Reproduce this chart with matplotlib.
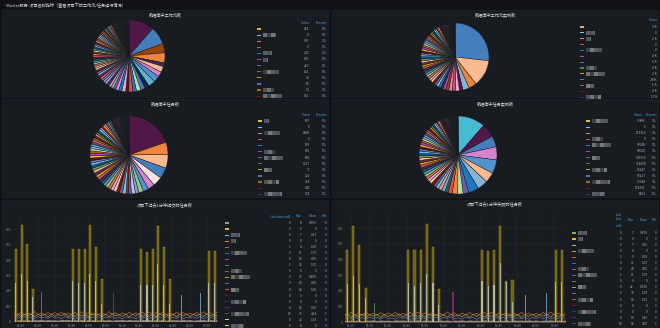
import numpy as np
import matplotlib
matplotlib.use("Agg")
import matplotlib.pyplot as plt
from matplotlib.patches import Rectangle

plt.rcParams["font.family"] = ["Noto Sans CJK SC", "DejaVu Sans"]

# ---------------------------------------------------------------- data
DASH_TITLE = "- Master服务-项目级别指标（查看项目下的工作流/任务运行情况）"
PANEL_TITLES = ["数据库中工作流数", "数据库中工作流实例数", "数据库中任务数",
                "数据库中任务实例数", "项目下过去1分钟提交的任务数",
                "项目下过去1分钟失败的任务数"]

# pie slices, in drawing order (clockwise from 12 o'clock)
wf_head = [800, 560, 290, 320, 120, 180, 160, 200, 220, 140, 140, 140, 120, 120,
           100, 120, 100, 100, 80, 80, 80, 80, 80, 70, 70, 70, 70]
wf_thin = [66, 64, 62, 62, 60, 60, 60, 58, 58, 58, 56, 56, 56, 54, 54, 54, 52, 52,
           52, 50, 50, 50, 48, 48, 46, 46, 44, 44, 42, 42, 40, 40, 38, 36, 34, 32]
wf_tail = [30, 28, 26, 24, 22, 20, 20, 18, 18, 16, 16, 15, 15, 14, 14, 13, 13, 12,
           12, 12, 11, 11, 11, 10, 10, 10, 10, 9, 9, 9, 9, 8, 8, 8, 8, 7, 7, 7, 7,
           6, 6, 6, 5, 5, 5, 4, 4, 3, 3, 2]

wfi_head = [9500, 4500, 1300, 1100, 600, 600, 600, 600, 500, 500, 400, 400]
wfi_thin = [420, 410, 400, 400, 390, 390, 380, 380, 370, 370, 360, 360, 360, 350,
            350, 350, 340, 340, 340, 330, 330, 330, 320, 320, 310, 310, 300, 300,
            290, 290, 280, 280, 270, 260, 250, 240]
wfi_tail = [200, 180, 170, 160, 150, 140, 130, 120, 110, 100, 95, 90, 85, 80, 75,
            70, 65, 60, 60, 55, 55, 50, 50, 45, 45, 40, 40, 35, 35, 30, 30, 25, 25,
            20, 20, 15, 15, 10, 10, 5]

task_head = [700, 180, 200, 160, 140, 100, 80, 70, 50, 60, 40, 40]
task_thin = [48, 47, 46, 45, 45, 44, 44, 43, 42, 42, 41, 40, 40, 39, 39, 38, 38, 37,
             37, 36, 36, 35, 35, 34, 34, 33, 33, 32, 32, 31, 31, 30, 30, 29, 28, 27,
             26, 25, 24, 23]
task_tail = [20, 18, 17, 16, 15, 14, 13, 12, 11, 10, 10, 9, 9, 8, 8, 7, 7, 7, 6, 6,
             6, 5, 5, 5, 5, 4, 4, 4, 4, 3, 3, 3, 3, 2, 2, 2, 2, 1, 1, 1]

ti_head = [40000, 20000, 16000, 19000, 20000, 15000, 15000, 15000, 8000, 8000, 8000,
           6000, 5000, 5000, 5000]
ti_thin = [4300, 4200, 4100, 4000, 4000, 3900, 3900, 3800, 3800, 3700, 3600, 3600,
           3500, 3500, 3500, 3400, 3400, 3300, 3300, 3200, 3200, 3100, 3100, 3000,
           3000, 2900, 2900, 2800, 2800, 2700, 2700, 2600, 2500, 2400, 2300, 2200]
ti_tail = [2000, 1800, 1700, 1600, 1500, 1400, 1300, 1200, 1100, 1000, 950, 900, 850,
           800, 750, 700, 650, 600, 600, 550, 550, 500, 500, 450, 450, 400, 400, 350,
           350, 300, 300, 250, 250, 200, 200, 150, 150, 100, 100, 50]

# pie legend tables (first visible rows)
wf_leg_val = ["923", "0", "350", "0", "265", "590", "423", "625", "34", "89", "73", "761"]
wf_leg_pct = ["1%", "0%", "2%", "0%", "2%", "1%", "1%", "1%", "0%", "0%", "0%", "1%"]
wfi_leg_val = ["3 K", "0", "2 K", "0", "0", "4 K", "6 K", "4 K", "2 K", "28 K",
               "1 K", "4 K", "17 K"]
task_leg_val = ["867", "0", "1808", "0", "859", "859", "801", "1127", "37", "129",
                "718", "441", "178"]
task_leg_pct = ["0%", "0%", "1%", "0%", "1%", "1%", "1%", "1%", "0%", "0%", "0%",
                "0%", "0%"]
ti_leg_val = ["33886", "0", "113316", "0", "75048", "38028", "343919", "314008",
              "13347", "53227", "37948", "114291", "8293"]
ti_leg_pct = ["3%", "0%", "3%", "0%", "3%", "3%", "1%", "1%", "0%", "0%", "3%", "1%",
              "0%"]

# time series: minutes after the first tick label
time_labels = ["15:10", "15:20", "15:30", "15:40", "15:50", "16:00", "16:10",
               "16:20", "16:30", "16:40", "16:50", "17:00"]
base_t = np.arange(-4, 118, 2)
base_orange = [55, 40, 62, 44, 58, 41, 66, 45, 57, 43, 60, 42, 59, 46, 63, 40, 56, 44,
               61, 43, 64, 46, 58, 41, 60, 45, 57, 42, 65, 47, 59, 40, 58, 44, 62, 46,
               56, 43, 61, 45, 63, 41, 58, 46, 60, 44, 57, 40, 62, 47, 59, 43, 56, 45,
               61, 44, 64, 46, 58, 42, 60]
base_green = [38, 50, 30, 47, 35, 52, 31, 46, 37, 49, 29, 51, 34, 45, 36, 53, 30, 48,
              33, 50, 35, 47, 31, 52, 36, 46, 32, 49, 30, 51, 37, 45, 33, 50, 29, 48,
              35, 53, 31, 47, 34, 49, 30, 52, 36, 46, 33, 50, 29, 48, 35, 51, 32, 47,
              37, 49, 30, 52, 34, 46, 36]
base_purple = [22, 30, 18, 33, 21, 28, 17, 31, 24, 29, 19, 34, 22, 27, 18, 32, 23, 30,
               16, 29, 21, 33, 19, 28, 24, 31, 17, 30, 22, 34, 20, 27, 18, 32, 23, 29,
               16, 33, 21, 30, 19, 28, 24, 31, 18, 34, 22, 27, 20, 32, 17, 29, 23, 30,
               21, 33, 19, 28, 22, 31, 20]
base_pale = [12, 9, 14, 10, 13, 8, 12, 11, 14, 9, 13, 10, 12, 8, 14, 11, 13, 9, 12, 10,
             14, 8, 13, 11, 12, 9, 14, 10, 13, 8, 12, 11, 14, 9, 13, 10, 12, 8, 14, 11,
             13, 9, 12, 10, 14, 8, 13, 11, 12, 9, 14, 10, 13, 8, 12, 11, 14, 9, 13, 10,
             12]

sub_t = [-3, 0.6, 3.6, 7.1, 30.8, 34.3, 37.9, 40.8, 44.4, 47.9, 71, 74.6, 78.1, 81,
         84.6, 88.2, 111.2, 114.8]
sub_peak = [470, 632, 508, 215, 470, 470, 470, 632, 483, 274, 470, 456, 470, 620,
            483, 274, 463, 463]
sub_light = [248, 313, 261, 157, 261, 248, 248, 313, 261, 117, 241, 235, 241, 378,
             241, 117, 254, 254]
sub_extra_t = [12.4, 55, 95.3, 106.5]
sub_extra_h = [195, 189, 176, 189]

fail_t = [-2, 1.2, 4.5, 7.8, 31, 34.3, 37.6, 41, 44.3, 47.5, 70.8, 74.1, 77.3, 80.8,
          84, 87.3, 110.7, 114]
fail_peak = [459, 612, 491, 217, 459, 459, 459, 625, 478, 210, 459, 455, 459, 612,
             262, 268, 459, 459]
fail_light = [242, 293, 242, 153, 249, 230, 249, 306, 249, 108, 262, 230, 236, 376,
              255, 127, 255, 255]
fail_extra_t = [12.5, 55.1, 94.3, 105.7]
fail_extra_h = [121, 191, 172, 185]

sub_last = ["0", "0", "0", "0", "1", "0", "0", "1", "0", "0", "0", "0", "0", "0", "4",
            "13", "0", "0"]
sub_max = ["8", "0", "7", "8", "4", "17", "14", "12", "0", "36", "10", "14", "0", "8",
           "15", "35", "20", "8"]
sub_mean = ["0.603", "0", "0.27", "0", "1.00", "1.07", "0.05", "1.05", "0", "0.800",
            "0.05", "1.00", "0", "0", "0.16", "4.14", "1.03", "0"]
sub_min = ["0", "0", "0", "0", "0", "0", "0", "0", "0", "0", "0", "0", "0", "0", "0",
           "1", "0", "0"]
fail_last = ["0", "0", "0", "0", "1", "0", "0", "1", "0", "0", "0", "0", "0", "0", "0",
             "10"]
fail_max = ["7", "0", "7", "0", "9", "21", "23", "11", "0", "32", "30", "14", "0", "0",
            "13", "18"]
fail_mean = ["0.878", "0", "0.16", "0", "1.08", "1.07", "0.05", "1.07", "0", "0.535",
             "1.07", "1.01", "0", "0", "0.16", "4.07"]
fail_min = ["0", "0", "0", "0", "0", "0", "0", "0", "0", "0", "0", "0", "0", "0", "0",
            "1"]

# ---------------------------------------------------------------- style
PAGE_BG = "#111217"
PANEL_BG = "#181b1f"
PANEL_EDGE = "#24272d"
TITLE_C = "#d8d9da"
HEAD_C = "#4e9fdd"
VAL_C = "#a9afb8"
PALETTE = ["#7EB26D", "#EAB839", "#6ED0E0", "#EF843C", "#E24D42", "#1F78C1",
           "#BA43A9", "#705DA0", "#508642", "#CCA300", "#447EBC", "#C15C17",
           "#890F02", "#0A437C", "#6D1F62", "#584477", "#B7DBAB", "#F4D598",
           "#70DBED", "#F9BA8F", "#F29191", "#82B5D8", "#E5A8E2", "#AEA2E0",
           "#629E51", "#E5AC0E", "#64B0C8", "#E0752D", "#BF1B00", "#0A50A1",
           "#962D82", "#614D93", "#9AC48A", "#F2C96D", "#65C5DB", "#F9934E",
           "#EA6460", "#5195CE", "#D683CE", "#806EB7", "#3F6833", "#967302",
           "#2F575E", "#99440A", "#58140C", "#052B51", "#511749", "#3F2B5B"]
DARK = ["#2F575E", "#3F2B5B", "#3F6833", "#58140C", "#4a4d52", "#052B51", "#511749",
        "#6b5a10", "#3a3d42", "#6D1F62", "#0A437C", "#584477", "#5c2a12", "#2c2f34"]

wf_colors = ["#511749", "#447EBC", "#99440A", "#EF843C", "#3F2B5B", "#F9BA8F",
             "#D683CE", "#5195CE", "#64B0C8", "#052B51", "#447EBC", "#B7DBAB",
             "#1F78C1", "#E24D42", "#58140C", "#E5A8E2", "#1F78C1", "#AEA2E0",
             "#BA43A9", "#82B5D8", "#F29191", "#0A437C", "#D683CE", "#64B0C8",
             "#806EB7", "#EA6460", "#6D1F62"]
wfi_colors = ["#447EBC", "#F9BA8F", "#EF843C", "#82B5D8", "#511749", "#E5A8E2",
              "#E24D42", "#D683CE", "#99440A", "#BA43A9", "#3F2B5B", "#1F78C1"]
task_colors = ["#511749", "#EF843C", "#F9BA8F", "#447EBC", "#FCE2DE", "#D683CE",
               "#5195CE", "#9AC48A", "#64B0C8", "#E5A8E2", "#1F78C1", "#BF1B00"]
ti_colors = ["#45BCD2", "#511749", "#447EBC", "#D683CE", "#5195CE", "#F9BA8F",
             "#82B5D8", "#1F78C1", "#705DA0", "#B7DBAB", "#EF843C", "#E24D42",
             "#2F575E", "#64B0C8", "#F29191"]

# widths of the pixelated (redacted) series names, one per legend row
BLUR = [0, 13, 0, 0, 9, 5, 0, 16, 0, 0, 11, 19, 0, 8, 0, 15, 0, 18]

W, H = 660, 328
FS_TITLE = 3.0
FS_LEG = 2.3

fig = plt.figure(figsize=(W / 100, H / 100), dpi=100)
fig.patch.set_facecolor(PAGE_BG)
bg = fig.add_axes([0, 0, 1, 1])
bg.set_xlim(0, W)
bg.set_ylim(H, 0)
bg.axis("off")


def px_axes(x0, y0, x1, y1):
    return fig.add_axes([x0 / W, 1 - y1 / H, (x1 - x0) / W, (y1 - y0) / H])


# ── header + panels ──
bg.text(4, 4.5, DASH_TITLE, fontsize=FS_TITLE, color=TITLE_C, va="center", ha="left")
panels = [(2, 10, 328, 97), (332, 10, 658, 97), (2, 99, 328, 197),
          (332, 99, 658, 197), (2, 200, 328, 332), (332, 200, 658, 332)]
for (x0, y0, x1, y1), title in zip(panels, PANEL_TITLES):
    bg.add_patch(Rectangle((x0, y0), x1 - x0, y1 - y0, facecolor=PANEL_BG,
                           edgecolor=PANEL_EDGE, lw=0.4))
    bg.text((x0 + x1) / 2, y0 + 4.5, title, fontsize=FS_TITLE, color=TITLE_C,
            ha="center", va="center")


# ── pies ──
def draw_pie(cx, cy, r, head, thin, tail, head_colors):
    ax = px_axes(cx - r, cy - r, cx + r, cy + r)
    colors = (head_colors
              + [PALETTE[(5 * k + 2) % len(PALETTE)] for k in range(len(thin))]
              + [DARK[(3 * k) % len(DARK)] for k in range(len(tail))])
    ax.pie(head + thin + tail, colors=colors, startangle=90, counterclock=False,
           wedgeprops=dict(edgecolor=PANEL_BG, linewidth=0.3))
    ax.set_xlim(-1, 1)
    ax.set_ylim(-1, 1)
    ax.set_aspect("equal")


draw_pie(129, 56, 36, wf_head, wf_thin, wf_tail, wf_colors)
draw_pie(455, 57, 34, wfi_head, wfi_thin, wfi_tail, wfi_colors)
draw_pie(129, 155, 39, task_head, task_thin, task_tail, task_colors)
draw_pie(458, 155, 39, ti_head, ti_thin, ti_tail, ti_colors)


# ── legend tables ──
MOSAIC = ["#7d8086", "#b3b6ba", "#5c5f65", "#c9cbce", "#90939a"]


def blur_block(x, y, w, seed):
    # pixelated name: a row of small grey squares
    k = 0
    while k * 4 < w:
        bg.add_patch(Rectangle((x + 4 * k, y - 2.0), min(4, w - 4 * k), 4.0,
                               facecolor=MOSAIC[(seed + k) % len(MOSAIC)], lw=0,
                               alpha=0.55))
        k += 1


def legend(x_sw, y0, dy, n, columns, headers, first=1, shift=0, head_y=None):
    for i in range(n):
        y = y0 + i * dy
        bg.add_patch(Rectangle((x_sw, y - 0.6), 4, 1.2,
                               color=PALETTE[(i + first) % len(PALETTE)], lw=0))
        blur_block(x_sw + 6, y, BLUR[(i + shift) % len(BLUR)], i + shift)
        for xr, vals in columns:
            bg.text(xr, y, vals[i], fontsize=FS_LEG, color=VAL_C, ha="right",
                    va="center")
    hy = y0 - dy if head_y is None else head_y
    for xr, lab in headers:
        bg.text(xr, hy, lab, fontsize=FS_LEG, color=HEAD_C, ha="right", va="center")


legend(257, 29, 6.1, len(wf_leg_val), [(309, wf_leg_val), (327, wf_leg_pct)],
       [(309, "Value"), (327, "Percent")])
legend(580, 27, 5.85, len(wfi_leg_val), [(657, wfi_leg_val)], [(657, "Value")],
       shift=3, head_y=20)
legend(258, 121, 6.1, len(task_leg_val), [(310, task_leg_val), (327, task_leg_pct)],
       [(310, "Value"), (327, "Percent")], shift=5)
legend(586, 121, 6.1, len(ti_leg_val), [(646, ti_leg_val), (657, ti_leg_pct)],
       [(642, "Value"), (657, "Percent")], shift=7)

legend(225, 223, 6.05, len(sub_last),
       [(291, sub_last), (302, sub_max), (317, sub_mean), (327, sub_min)],
       [(291, "Last (not null)"), (302, "Max"), (317, "Mean"), (327, "Min")],
       first=0, shift=2, head_y=216)
legend(572, 233, 6.05, len(fail_last),
       [(622, fail_last), (634, fail_max), (648, fail_mean), (657, fail_min)],
       [(634, "Max"), (648, "Mean"), (657, "Min")], first=0, shift=4, head_y=220)
for k, part in enumerate(["Last", "(not", "null)"]):
    bg.text(622, 214.5 + 5.2 * k, part, fontsize=FS_LEG, color=HEAD_C, ha="right",
            va="center")


# ── time series ──
def draw_ts(rect, xlim, spike_t, peak, light, extra_t, extra_h):
    ax = px_axes(*rect)
    ax.set_facecolor("none")
    ax.fill_between(base_t, 0, base_orange, color="#E0752D", alpha=0.06, lw=0)
    ax.fill_between(base_t, 0, base_pale, color="#F2D8D0", alpha=0.55, lw=0)
    ax.plot(base_t, base_purple, color="#806EB7", lw=0.45)
    ax.plot(base_t, base_green, color="#7EB26D", lw=0.45)
    ax.plot(base_t, base_orange, color="#E0752D", lw=0.45, alpha=0.9)
    ax.bar(spike_t, peak, width=1.1, color="#6f5f13", edgecolor="#ad9419", lw=0.3)
    ax.bar(spike_t, light, width=0.6, color="#c3ccbc", alpha=0.8, lw=0)
    ax.bar(extra_t, extra_h, width=0.6,
           color=["#629E51", "#962D82", "#82B5D8", "#82B5D8"], alpha=0.75, lw=0)
    ax.set_xlim(*xlim)
    ax.set_ylim(0, 690)
    ax.set_xticks([10 * k for k in range(len(time_labels))])
    ax.set_xticklabels(time_labels)
    ax.set_yticks([0, 100, 200, 300, 400, 500, 600])
    ax.grid(color="#25282d", lw=0.35)
    ax.set_axisbelow(True)
    ax.tick_params(colors="#8e9198", labelsize=FS_LEG, length=0, pad=1.5)
    for s in ax.spines.values():
        s.set_visible(False)


draw_ts((13, 215.7, 220, 321.5), (-4.7, 117.8), sub_t, sub_peak, sub_light,
        sub_extra_t, sub_extra_h)
draw_ts((345, 214, 565, 322), (-3.3, 115.7), fail_t, fail_peak, fail_light,
        fail_extra_t, fail_extra_h)

fig.savefig("out.png", dpi=100, facecolor=PAGE_BG)
